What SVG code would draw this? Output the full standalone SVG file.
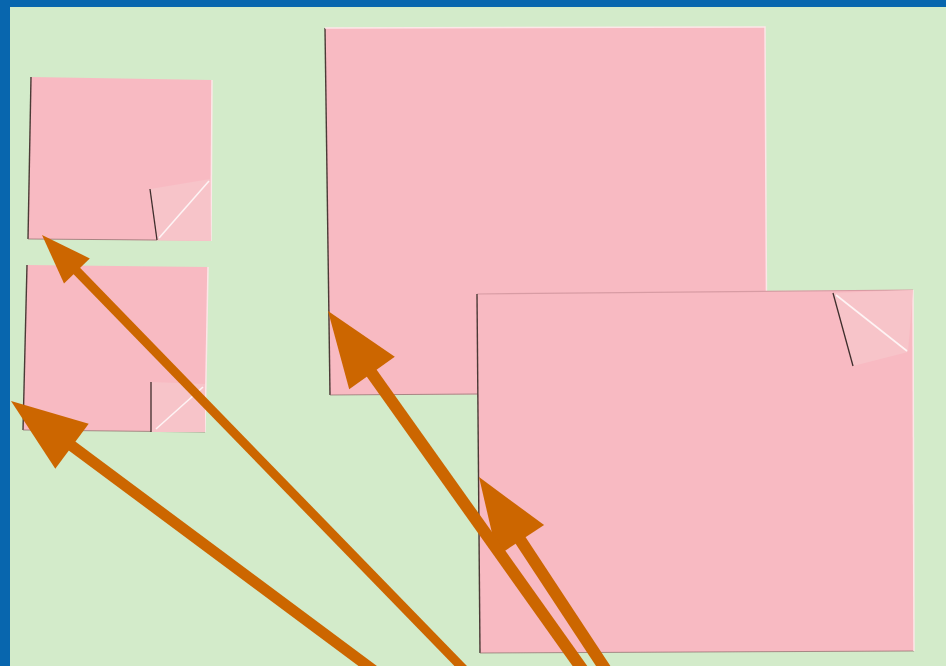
<svg xmlns="http://www.w3.org/2000/svg" width="946" height="666" viewBox="0 0 946 666">
<defs>
<style>
.note{fill:#f8bac2;}
.shadow{fill:none;stroke:#4a3a36;stroke-width:1.4;}
.bottom{fill:none;stroke:#8a6a68;stroke-width:1;opacity:0.7;}
.lite{fill:none;stroke:#fde6e8;stroke-width:1.5;}
.topedge{fill:none;stroke:#d89ca4;stroke-width:1.2;}
.curl{fill:#f7c4c9;}
.crease{fill:none;stroke:#ffffff;stroke-width:1.6;opacity:0.8;}
.fold{fill:none;stroke:#3e2e2c;stroke-width:1.3;}
.shaft{stroke:#cc6600;stroke-linecap:butt;fill:none;}
.head{fill:#cc6600;}
</style>
</defs>
<rect x="0" y="0" width="946" height="666" fill="#d3ebca"/>
<rect x="0" y="0" width="946" height="7" fill="#0866ae"/>
<rect x="0" y="0" width="10" height="666" fill="#0866ae"/>

<g id="note3">
<polygon class="note" points="325,28 765,27 767,393 330,395"/>
<polyline class="shadow" points="325,28 330,395"/>
<polyline class="bottom" points="330,395 478,394"/>
<polyline class="lite" points="325,28 765,27 767,393"/>
</g>

<g id="note1">
<polygon class="note" points="31,77 212,80 211,241 28,239"/>
<polyline class="shadow" points="31,77 28,239"/>
<polyline class="bottom" points="28,239 157,240"/>
<polyline class="lite" points="212,80 211,241"/>
<polygon class="curl" points="150,189 210,179 211,241 157,240"/>
<line class="crease" x1="209" y1="181" x2="159" y2="238"/>
<line class="fold" x1="150" y1="189" x2="157" y2="240"/>
</g>

<g id="note2">
<polygon class="note" points="27,265 208,267 205,432 23,430"/>
<polyline class="shadow" points="27,265 23,430"/>
<polyline class="bottom" points="23,430 205,432"/>
<polyline class="lite" points="208,267 205,432"/>
<polygon class="curl" points="151,382 205,384 205,432 151,432"/>
<line class="crease" x1="203" y1="387" x2="156" y2="429"/>
<line class="fold" x1="151" y1="382" x2="151" y2="432"/>
</g>

<g id="note4">
<polygon class="note" points="477,294 913,290 914,651 480,653"/>
<polyline class="topedge" points="477,294 913,290"/>
<polyline class="shadow" points="477,294 480,653"/>
<polyline class="bottom" points="480,653 914,651"/>
<polyline class="lite" points="913,290 914,651"/>
<polygon class="curl" points="833,293 913,290 908,352 853,366"/>
<line class="crease" x1="836" y1="295" x2="907" y2="351"/>
<line class="fold" x1="833" y1="293" x2="853" y2="366"/>
</g>

<g id="connectors">
<line class="shaft" stroke-width="9" x1="70" y1="264" x2="484" y2="690"/>
<polygon class="head" points="42,235 89.8,258.4 64,283.4"/>
<line class="shaft" stroke-width="11" x1="68" y1="443" x2="400" y2="690"/>
<polygon class="head" points="11,401 88.7,423.8 55.3,468.8"/>
<line class="shaft" stroke-width="12" x1="517" y1="535" x2="619" y2="690"/>
<polygon class="head" points="479,477 544.1,525.1 497.3,555.9"/>
<line class="shaft" stroke-width="12" x1="368" y1="368" x2="597" y2="690"/>
<polygon class="head" points="328,311 394.8,356.8 349.2,389.2"/>
</g>
</svg>
